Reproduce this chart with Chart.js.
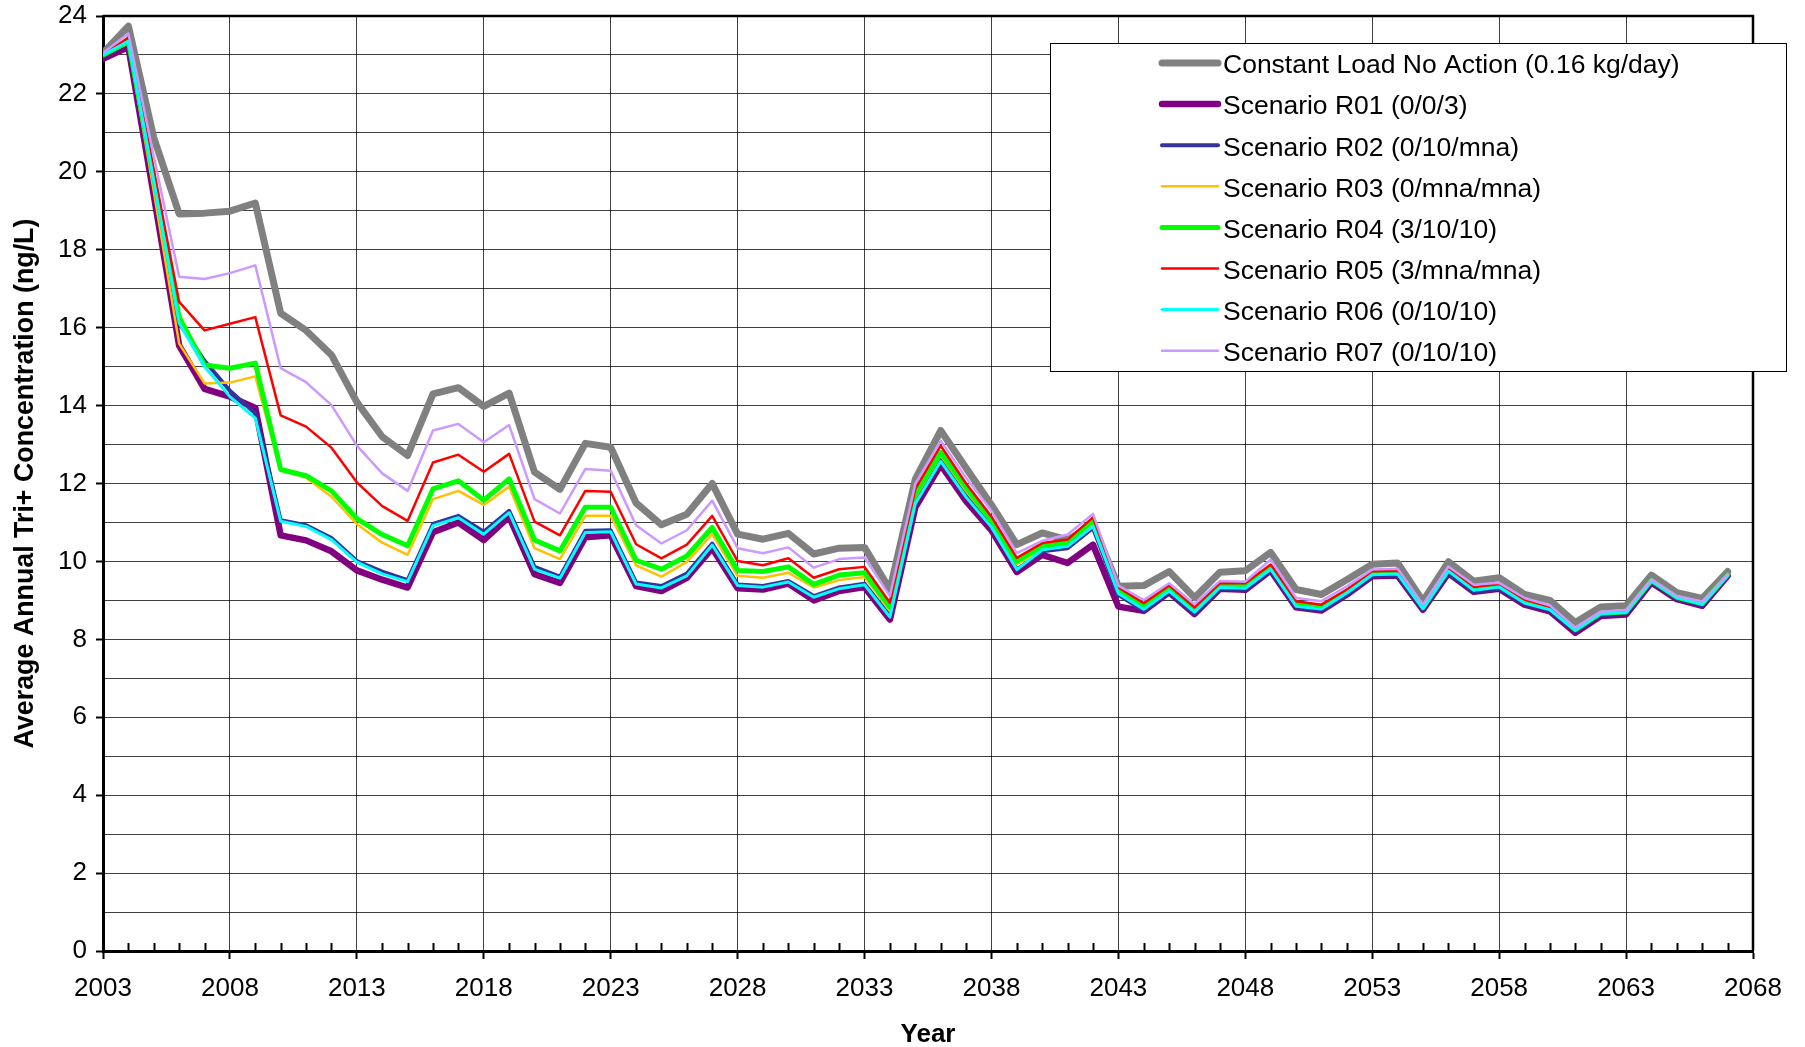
<!DOCTYPE html>
<html>
<head>
<meta charset="utf-8">
<script src="https://cdn.jsdelivr.net/npm/chart.js@4"></script>
<style>
  html, body { margin: 0; padding: 0; background: #fff; }
  #wrap { width: 1805px; height: 1047px; }
</style>
</head>
<body>
<div id="wrap"><canvas id="chart" width="1805" height="1047"></canvas></div>
<script>
// years 2003..2067
const years = [2003, 2004, 2005, 2006, 2007, 2008, 2009, 2010, 2011, 2012, 2013, 2014, 2015, 2016, 2017, 2018, 2019, 2020, 2021, 2022,
  2023, 2024, 2025, 2026, 2027, 2028, 2029, 2030, 2031, 2032, 2033, 2034, 2035, 2036, 2037, 2038, 2039, 2040, 2041, 2042,
  2043, 2044, 2045, 2046, 2047, 2048, 2049, 2050, 2051, 2052, 2053, 2054, 2055, 2056, 2057, 2058, 2059, 2060, 2061, 2062,
  2063, 2064, 2065, 2066, 2067];

const xTicks = [2003, 2008, 2013, 2018, 2023, 2028, 2033, 2038, 2043, 2048, 2053, 2058, 2063, 2068];

const noAction = [23.05, 23.74, 20.88, 18.92, 18.94, 18.99, 19.2, 16.37, 15.93, 15.3, 14.09, 13.2, 12.72, 14.3, 14.46, 13.98, 14.32, 12.29, 11.85, 13.03,
  12.93, 11.5, 10.94, 11.21, 12.0, 10.7, 10.57, 10.72, 10.19, 10.34, 10.36, 9.28, 12.11, 13.36, 12.4, 11.45, 10.43, 10.73, 10.55, 10.95,
  9.36, 9.38, 9.74, 9.07, 9.72, 9.76, 10.23, 9.28, 9.15, 9.53, 9.93, 9.96, 8.98, 9.99, 9.49, 9.58, 9.15, 9.0, 8.43, 8.83,
  8.86, 9.65, 9.2, 9.05, 9.74];

const r01 = [22.9, 23.2, 19.4, 15.54, 14.43, 14.23, 13.94, 10.67, 10.54, 10.26, 9.77, 9.53, 9.33, 10.75, 11.0, 10.55, 11.15, 9.67, 9.45, 10.62,
  10.67, 9.37, 9.24, 9.58, 10.34, 9.31, 9.28, 9.43, 9.0, 9.24, 9.34, 8.51, 11.39, 12.48, 11.55, 10.8, 9.73, 10.17, 9.96, 10.43,
  8.84, 8.73, 9.21, 8.65, 9.3, 9.27, 9.77, 8.82, 8.74, 9.15, 9.62, 9.64, 8.76, 9.7, 9.22, 9.3, 8.89, 8.72, 8.17, 8.6,
  8.64, 9.46, 9.03, 8.86, 9.63];

const r02 = [22.95, 23.3, 19.75, 16.12, 15.15, 14.38, 13.8, 11.06, 10.93, 10.6, 10.01, 9.74, 9.52, 10.96, 11.17, 10.76, 11.3, 9.86, 9.61, 10.79,
  10.8, 9.46, 9.37, 9.69, 10.46, 9.41, 9.37, 9.5, 9.11, 9.33, 9.43, 8.6, 11.51, 12.6, 11.68, 10.9, 9.79, 10.26, 10.34, 10.86,
  9.14, 8.73, 9.21, 8.65, 9.3, 9.27, 9.77, 8.82, 8.74, 9.15, 9.62, 9.64, 8.76, 9.7, 9.22, 9.3, 8.91, 8.74, 8.2, 8.62,
  8.66, 9.47, 9.04, 8.87, 9.63];

const r03 = [22.98, 23.3, 19.5, 15.59, 14.57, 14.59, 14.75, 12.33, 12.15, 11.66, 10.96, 10.48, 10.17, 11.6, 11.81, 11.45, 11.92, 10.34, 10.06, 11.17,
  11.17, 9.9, 9.61, 9.99, 10.7, 9.63, 9.58, 9.71, 9.33, 9.52, 9.6, 8.73, 11.64, 12.72, 11.8, 11.0, 9.93, 10.3, 10.41, 11.0,
  9.24, 8.84, 9.31, 8.75, 9.38, 9.36, 9.84, 8.89, 8.82, 9.22, 9.69, 9.71, 8.8, 9.77, 9.28, 9.36, 8.96, 8.79, 8.24, 8.67,
  8.7, 9.5, 9.07, 8.91, 9.65];

const r04 = [23.0, 23.35, 19.85, 16.27, 15.04, 14.96, 15.09, 12.36, 12.2, 11.81, 11.1, 10.69, 10.4, 11.86, 12.07, 11.57, 12.12, 10.55, 10.27, 11.39,
  11.39, 10.03, 9.8, 10.14, 10.87, 9.77, 9.74, 9.86, 9.41, 9.65, 9.71, 8.83, 11.73, 12.8, 11.9, 11.05, 10.0, 10.39, 10.47, 11.07,
  9.27, 8.87, 9.33, 8.77, 9.4, 9.38, 9.86, 8.92, 8.85, 9.23, 9.7, 9.73, 8.82, 9.79, 9.3, 9.38, 8.98, 8.8, 8.25, 8.67,
  8.71, 9.51, 9.08, 8.92, 9.66];

const r05 = [23.0, 23.45, 20.05, 16.66, 15.93, 16.1, 16.27, 13.75, 13.46, 12.92, 12.03, 11.42, 11.04, 12.54, 12.74, 12.3, 12.76, 11.02, 10.67, 11.81,
  11.79, 10.44, 10.08, 10.43, 11.17, 10.01, 9.9, 10.08, 9.58, 9.8, 9.86, 8.94, 11.86, 12.97, 12.0, 11.15, 10.09, 10.47, 10.56, 11.13,
  9.33, 8.93, 9.38, 8.82, 9.44, 9.44, 9.92, 8.98, 8.89, 9.28, 9.75, 9.76, 8.85, 9.83, 9.34, 9.42, 9.02, 8.83, 8.27, 8.68,
  8.72, 9.52, 9.09, 8.94, 9.65];

const r06 = [23.0, 23.35, 19.78, 16.12, 15.0, 14.23, 13.68, 11.03, 10.9, 10.56, 9.98, 9.68, 9.48, 10.92, 11.12, 10.7, 11.25, 9.8, 9.57, 10.74,
  10.76, 9.42, 9.32, 9.63, 10.42, 9.38, 9.34, 9.47, 9.08, 9.3, 9.4, 8.57, 11.48, 12.57, 11.65, 10.88, 9.79, 10.3, 10.39, 10.9,
  9.18, 8.77, 9.24, 8.7, 9.33, 9.31, 9.8, 8.85, 8.78, 9.19, 9.66, 9.68, 8.79, 9.75, 9.26, 9.34, 8.93, 8.76, 8.23, 8.66,
  8.69, 9.5, 9.07, 8.9, 9.63];

const r07 = [23.05, 23.55, 20.4, 17.31, 17.25, 17.4, 17.6, 14.96, 14.6, 14.01, 12.97, 12.26, 11.81, 13.36, 13.53, 13.06, 13.5, 11.6, 11.23, 12.37,
  12.33, 10.93, 10.46, 10.8, 11.56, 10.34, 10.21, 10.36, 9.84, 10.06, 10.1, 9.11, 11.99, 13.1, 12.15, 11.3, 10.21, 10.53, 10.69, 11.22,
  9.38, 9.01, 9.44, 8.9, 9.5, 9.48, 10.05, 9.06, 8.98, 9.36, 9.79, 9.81, 8.89, 9.87, 9.4, 9.45, 9.06, 8.87, 8.3, 8.71,
  8.75, 9.54, 9.11, 8.97, 9.67];

const seriesNames = [
  'Constant Load No Action (0.16 kg/day)',
  'Scenario R01 (0/0/3)',
  'Scenario R02 (0/10/mna)',
  'Scenario R03 (0/mna/mna)',
  'Scenario R04 (3/10/10)',
  'Scenario R05 (3/mna/mna)',
  'Scenario R06 (0/10/10)',
  'Scenario R07 (0/10/10)'
];
const seriesValues = [noAction, r01, r02, r03, r04, r05, r06, r07];
const seriesColors = ['#808080', '#800080', '#333399', '#FFC000', '#00FF00', '#FF0000', '#00FFFF', '#CC99FF'];
const seriesWidths = [7, 6.5, 4, 2.5, 5, 2.5, 3, 2.5];

const FONT = "'Liberation Sans', Arial, sans-serif";

// minor year ticks on the x axis + top/right frame
const framePlugin = {
  id: 'frame',
  afterDatasetsDraw(chart) {
    const { ctx, chartArea: a, scales: { x } } = chart;
    ctx.save();
    ctx.strokeStyle = '#000';
    ctx.lineWidth = 2;
    for (let yr = 2004; yr < 2068; yr++) {
      if ((yr - 2003) % 5 === 0) continue;
      const px = Math.round(x.getPixelForValue(yr)) + 0.5;
      ctx.beginPath();
      ctx.moveTo(px, a.bottom);
      ctx.lineTo(px, a.bottom - 8);
      ctx.stroke();
    }
    ctx.lineWidth = 2.5;
    ctx.beginPath();
    ctx.moveTo(a.left, a.top);
    ctx.lineTo(a.right, a.top);
    ctx.lineTo(a.right, a.bottom);
    ctx.stroke();
    ctx.restore();
  }
};

// boxed legend in the upper right
const legendBox = {
  id: 'legendBox',
  afterDraw(chart) {
    const { ctx } = chart;
    const bx = 1050, by = 43, bw = 736, bh = 328;
    ctx.save();
    ctx.fillStyle = '#fff';
    ctx.fillRect(bx, by, bw, bh);
    ctx.strokeStyle = '#000';
    ctx.lineWidth = 1;
    ctx.strokeRect(bx + 0.5, by + 0.5, bw, bh);
    ctx.font = '26.5px ' + FONT;
    ctx.textBaseline = 'middle';
    ctx.textAlign = 'left';
    chart.data.datasets.forEach((ds, i) => {
      const cy = 66 + i * 41.1;
      ctx.strokeStyle = ds.borderColor;
      ctx.lineWidth = ds.borderWidth;
      ctx.lineCap = 'round';
      ctx.beginPath();
      ctx.moveTo(1162, cy - 3);
      ctx.lineTo(1218, cy - 3);
      ctx.stroke();
      ctx.fillStyle = '#000';
      ctx.fillText(ds.label, 1223, cy);
    });
    ctx.restore();
  }
};

const datasets = seriesNames.map((name, i) => ({
  label: name,
  data: years.map((yr, j) => ({ x: yr, y: seriesValues[i][j] })),
  borderColor: seriesColors[i],
  backgroundColor: seriesColors[i],
  borderWidth: seriesWidths[i],
  pointRadius: 0,
  tension: 0,
  fill: false,
  borderJoinStyle: 'round',
  borderCapStyle: 'round',
  order: seriesNames.length - i
}));

new Chart(document.getElementById('chart'), {
  type: 'line',
  data: { datasets },
  options: {
    responsive: false,
    animation: false,
    layout: { padding: { left: 0, top: 16, right: 52, bottom: 0 } },
    plugins: {
      legend: { display: false },
      tooltip: { enabled: false }
    },
    scales: {
      x: {
        type: 'linear',
        min: 2003,
        max: 2068,
        afterBuildTicks: (s) => { s.ticks = xTicks.map(v => ({ value: v })); },
        afterFit: (s) => { s.height = 96; },
        ticks: {
          autoSkip: false,
          maxRotation: 0,
          color: '#000',
          padding: 14,
          font: { family: FONT, size: 26 },
          callback: (v) => String(v)
        },
        grid: { color: 'rgba(0,0,0,0.75)', lineWidth: 1, tickLength: 8, tickColor: '#000', tickWidth: 2 },
        border: { display: true, color: '#000', width: 3 },
        title: {
          display: true,
          text: 'Year',
          color: '#000',
          font: { family: FONT, size: 26, weight: 'bold', lineHeight: 0.95 },
          padding: { top: 0, bottom: 0 }
        }
      },
      y: {
        min: 0,
        max: 24,
        afterFit: (s) => { s.width = 103; s.paddingTop = 0; s.paddingBottom = 0; },
        ticks: {
          stepSize: 1,
          color: '#000',
          padding: 9,
          font: { family: FONT, size: 26 },
          callback: (v) => (v % 2 === 0 ? String(v) : '')
        },
        grid: {
          color: 'rgba(0,0,0,0.75)',
          lineWidth: 1,
          tickLength: 7,
          tickWidth: 2,
          tickColor: (c) => (c.tick && c.tick.value % 2 === 0 ? '#000' : 'rgba(0,0,0,0)')
        },
        border: { display: true, color: '#000', width: 3 },
        title: {
          display: true,
          text: 'Average Annual Tri+ Concentration (ng/L)',
          color: '#000',
          font: { family: FONT, size: 26.8, weight: 'bold' },
          padding: { top: 10, bottom: 0 }
        }
      }
    }
  },
  plugins: [framePlugin, legendBox]
});
</script>
</body>
</html>
